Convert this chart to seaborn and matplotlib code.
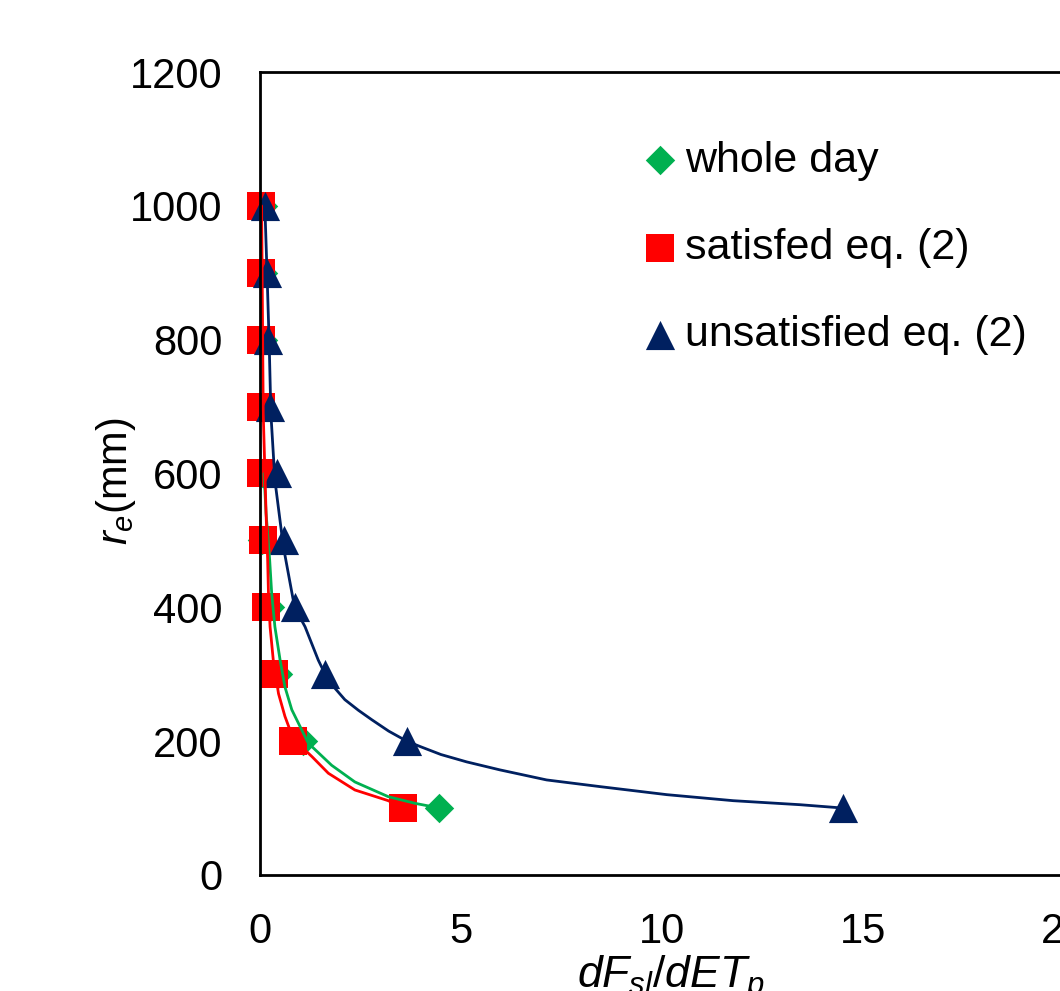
import numpy as np
import pandas as pd
import seaborn as sns
import matplotlib.pyplot as plt
from matplotlib.ticker import MultipleLocator

# valores: r_e (mm) e dFsl/dETp de cada serie
re_mm = [1000, 900, 800, 700, 600, 500, 400, 300, 200, 100]
whole_day = [0.07, 0.07, 0.07, 0.05, 0.05, 0.05, 0.26, 0.45, 1.06, 4.46]
satisfied = [0.02, 0.02, 0.02, 0.02, 0.02, 0.08, 0.15, 0.36, 0.83, 3.55]
unsatisfied = [0.12, 0.18, 0.21, 0.25, 0.42, 0.60, 0.86, 1.62, 3.65, 14.5]

# curvas ajustadas (lidas ponto a ponto)
curva_green_x = [0.10, 0.15, 0.24, 0.29, 0.37, 0.50, 0.62, 0.79, 1.20, 1.78, 2.36, 3.19, 3.86, 4.46]
curva_green_y = [600, 541, 471, 421, 371, 321, 281, 247, 197, 164, 139, 117, 107, 100]
curva_red_x = [0.04, 0.08, 0.15, 0.19, 0.21, 0.25, 0.33, 0.46, 0.62, 0.83, 1.29, 1.70, 2.36, 3.19, 3.55]
curva_red_y = [1000, 690, 541, 471, 421, 371, 321, 271, 237, 203, 177, 152, 127, 111, 100]
curva_blue_x = [0.12, 0.18, 0.23, 0.27, 0.37, 0.58, 0.86, 1.12, 1.45, 1.62, 1.85, 2.11, 2.45, 2.78, 3.2, 3.65,
                3.98, 4.5, 5.14, 5.97, 7.13, 8.46, 10.12, 11.77, 13.43, 14.5]
curva_blue_y = [1000, 889, 790, 690, 590, 491, 400, 371, 321, 300, 280, 262, 246, 232, 215, 200,
                192, 180, 169, 157, 142, 132, 120, 111, 105, 100]

verde = "#00B050"
vermelho = "#FF0000"
azul = "#002060"

sns.set_style("white")
plt.rcParams['font.family'] = ['Liberation Sans', 'DejaVu Sans']
plt.rcParams['mathtext.fontset'] = 'custom'
plt.rcParams['mathtext.rm'] = 'Liberation Sans'
plt.rcParams['mathtext.it'] = 'Liberation Sans:italic'
for k in ['text.color', 'axes.labelcolor', 'xtick.color', 'ytick.color']:
    plt.rcParams[k] = 'black'

fig = plt.figure(figsize=(10.6, 9.91), dpi=100)
ax = fig.add_axes([0.2453, 0.1171, 0.7585, 0.8102])

sns.scatterplot(x=whole_day, y=re_mm, marker="D", s=15**2, color=verde, linewidth=0,
                label="whole day", clip_on=False, ax=ax)
sns.scatterplot(x=satisfied, y=re_mm, marker="s", s=20**2, color=vermelho, linewidth=0,
                label="satisfed eq. (2)", clip_on=False, ax=ax)
sns.scatterplot(x=unsatisfied, y=re_mm, marker="^", s=21**2, color=azul, linewidth=0,
                label="unsatisfied eq. (2)", clip_on=False, ax=ax)

sns.lineplot(x=curva_green_x, y=curva_green_y, sort=False, estimator=None, color=verde, lw=2, legend=False, ax=ax)
sns.lineplot(x=curva_red_x, y=curva_red_y, sort=False, estimator=None, color=vermelho, lw=2, legend=False, ax=ax)
sns.lineplot(x=curva_blue_x, y=curva_blue_y, sort=False, estimator=None, color=azul, lw=2, legend=False, ax=ax)

ax.set_xlim(0, 20)
ax.set_ylim(0, 1200)
ax.xaxis.set_major_locator(MultipleLocator(5))
ax.yaxis.set_major_locator(MultipleLocator(200))
ax.tick_params(direction="in", length=9, width=1.5, labelsize=30, color="black")
ax.tick_params(axis="x", pad=27)
ax.tick_params(axis="y", pad=27)
for s in ax.spines.values():
    s.set_linewidth(2)
    s.set_color("black")

ax.set_xlabel(r"$dF_{sl}/dET_p$", fontsize=32)
ax.set_ylabel(r"$r_e$(mm)", fontsize=30)
ax.xaxis.set_label_coords(0.511, -0.097)
ax.yaxis.set_label_coords(-0.152, 0.49)

ax.legend(loc="upper left", bbox_to_anchor=(0.6075, 0.858), bbox_transform=fig.transFigure,
          frameon=False, fontsize=31, handlelength=0.75, handletextpad=0.2,
          labelspacing=1.1, borderpad=0, borderaxespad=0, scatterpoints=1)

fig.savefig("out.png", dpi=100)
